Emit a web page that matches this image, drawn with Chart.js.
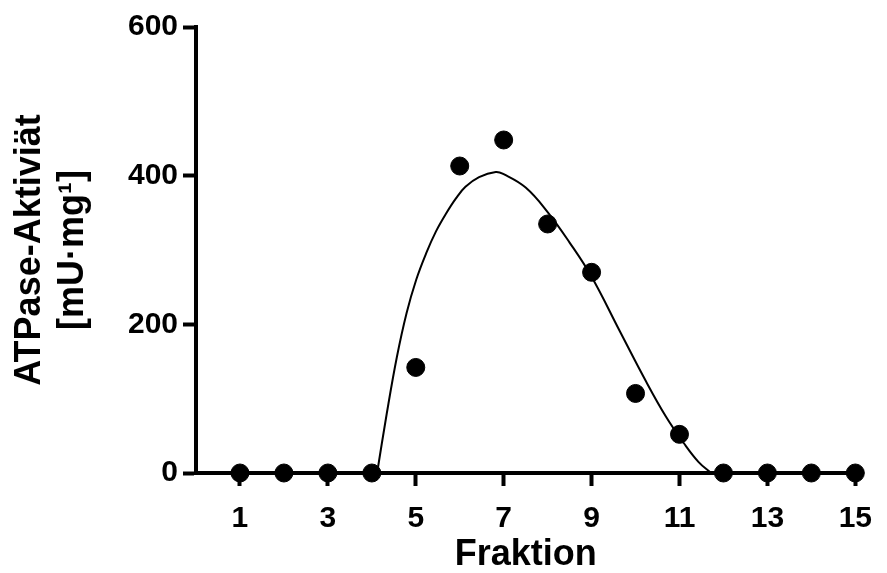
<!DOCTYPE html>
<html>
<head>
<meta charset="utf-8">
<script src="https://cdn.jsdelivr.net/npm/chart.js@4"></script>
<style>
    html, body { margin: 0; padding: 0; background: #fff; }
    #wrap { width: 887px; height: 573px; }
</style>
</head>
<body>
<div id="wrap"><canvas id="atpase"></canvas></div>
<script>
// measured activity per fraction
const fractions = [1, 2, 3, 4, 5, 6, 7, 8, 9, 10, 11, 12, 13, 14, 15];
const activity = [0, 0, 0, 0, 142, 413, 448, 335, 270, 107, 52, 0, 0, 0, 0];

// fitted curve, sampled
const fitX = [4.12, 4.34, 4.57, 4.79, 5.01, 5.24, 5.46, 5.69, 5.91, 6.13, 6.44, 6.82, 7.0, 7.5, 8.0, 8.5, 9.0, 9.64, 10.24, 10.69, 11.1, 11.43, 11.72];
const fitY = [0, 80, 156, 215, 260, 296, 325, 349, 369, 385, 398, 405, 402, 384, 351, 310, 264, 191, 123, 76, 40, 15, 0];

const xTicks = [1, 3, 5, 7, 9, 11, 13, 15];
const yTicks = [0, 200, 400, 600];

const font = "'Liberation Sans', Arial, sans-serif";

function axis(min, max, ticks, title) {
    return {
        type: "linear",
        min: min,
        max: max,
        afterBuildTicks: scale => {
            scale.ticks = ticks.map(v => ({ value: v }));
        },
        border: { display: true, color: "#000", width: 4 },
        grid: {
            drawOnChartArea: false,
            drawTicks: true,
            tickLength: 13,
            tickWidth: 4,
            tickColor: "#000"
        },
        ticks: {
            color: "#000",
            autoSkip: false,
            maxRotation: 0,
            font: { family: font, size: 30, weight: "bold" }
        },
        title: title
    };
}

const xAxis = axis(0, 15, xTicks, {
    display: true,
    text: "Fraktion",
    color: "#000",
    padding: { top: 0, bottom: 0 },
    font: { family: font, size: 36, weight: "bold", lineHeight: 1 }
});
xAxis.ticks.padding = 15;
xAxis.afterFit = scale => { scale.height = 100; };

const yAxis = axis(0, 600, yTicks, {
    display: true,
    text: ["ATPase-Aktiviät", "[mU·mg¹]"],
    color: "#000",
    padding: { top: 8, bottom: 0 },
    font: { family: font, size: 36, weight: "bold", lineHeight: 1.2 }
});
yAxis.ticks.padding = 5;
yAxis.afterFit = scale => { scale.width = 196; };

new Chart(document.getElementById("atpase"), {
    type: "scatter",
    data: {
        datasets: [
            {
                label: "Fit",
                data: fitX.map((x, i) => ({ x: x, y: fitY[i] })),
                showLine: true,
                tension: 0.4,
                borderColor: "#000",
                borderWidth: 2,
                pointRadius: 0,
                clip: false
            },
            {
                label: "ATPase",
                data: fractions.map((x, i) => ({ x: x, y: activity[i] })),
                backgroundColor: "#000",
                borderColor: "#000",
                pointRadius: 9,
                pointHoverRadius: 9,
                clip: false
            }
        ]
    },
    options: {
        responsive: true,
        maintainAspectRatio: false,
        animation: false,
        layout: { padding: { top: 27, right: 21, bottom: 0, left: 0 } },
        plugins: {
            legend: { display: false },
            tooltip: { enabled: false }
        },
        scales: { x: xAxis, y: yAxis }
    }
});
</script>
</body>
</html>
